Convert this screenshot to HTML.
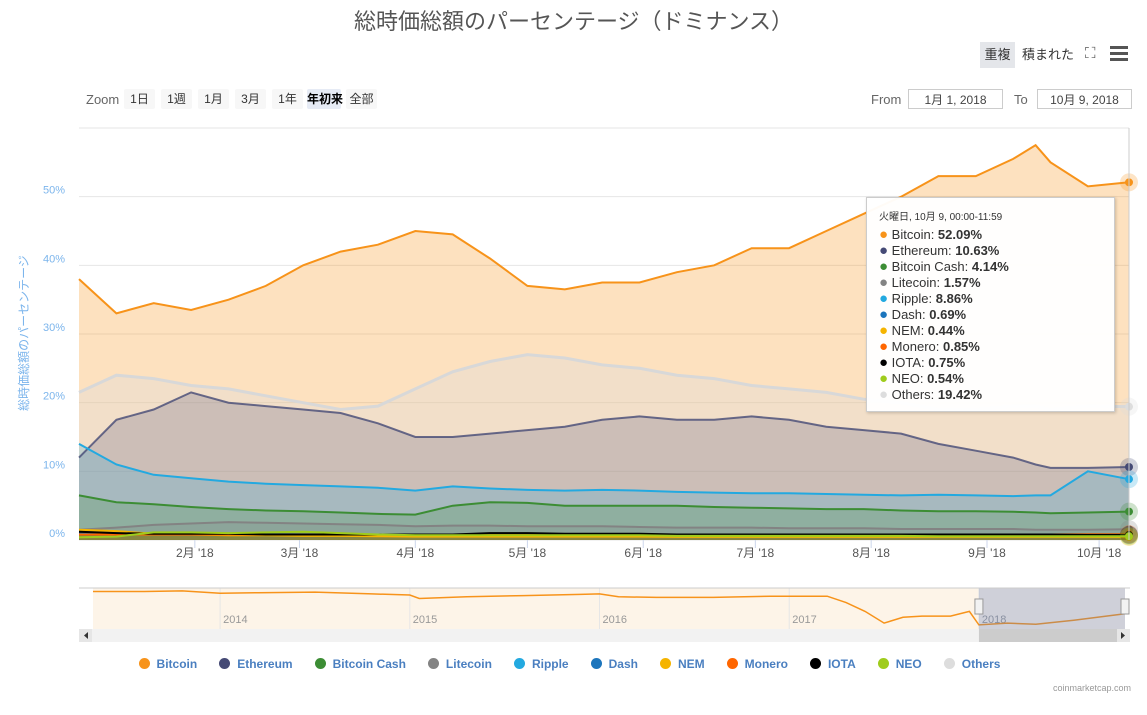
<!DOCTYPE html>
<html><head><meta charset="utf-8">
<style>
body{margin:0;background:#fff;font-family:"Liberation Sans","Noto Sans CJK JP",sans-serif;}
#wrap{position:relative;width:1147px;height:715px;overflow:hidden;}
.abs{position:absolute;}
.btn{position:absolute;top:89px;height:20px;line-height:20px;font-size:12px;color:#333;background:#f7f7f7;text-align:center;border-radius:2px;white-space:nowrap;}
.inp{position:absolute;top:89px;height:20px;line-height:20px;border:1px solid #ccc;font-size:12px;color:#444;text-align:center;box-sizing:border-box;}
</style></head><body>
<div id="wrap">
<div class="abs" style="left:0;width:1147px;top:4px;text-align:center;font-size:22px;color:#555;">総時価総額のパーセンテージ（ドミナンス）</div>
<div class="abs" style="left:980px;top:42px;width:35px;height:26px;line-height:26px;background:#e4e6ea;text-align:center;font-size:13px;color:#333;">重複</div>
<div class="abs" style="left:1022px;top:42px;height:26px;line-height:26px;font-size:13px;color:#333;">積まれた</div>
<div class="abs" style="left:1085px;top:45px;font-size:15px;color:#555;">⛶</div>
<div class="abs" style="left:1110px;top:46px;width:18px;">
<div style="height:3px;background:#555;margin-bottom:3px"></div><div style="height:3px;background:#555;margin-bottom:3px"></div><div style="height:3px;background:#555"></div></div>
<div class="abs" style="left:86px;top:92px;font-size:13px;color:#666;">Zoom</div>
<div class="btn" style="left:124px;width:31px;">1日</div>
<div class="btn" style="left:161px;width:31px;">1週</div>
<div class="btn" style="left:198px;width:31px;">1月</div>
<div class="btn" style="left:235px;width:31px;">3月</div>
<div class="btn" style="left:272px;width:31px;">1年</div>
<div class="btn" style="left:307px;width:34px;background:#e6ebf5;font-weight:bold;color:#000;text-align:left;">年初来</div>
<div class="btn" style="left:346px;width:31px;">全部</div>
<div class="abs" style="left:871px;top:92px;font-size:13px;color:#666;">From</div>
<div class="inp" style="left:908px;width:95px;">1月 1, 2018</div>
<div class="abs" style="left:1014px;top:92px;font-size:13px;color:#666;">To</div>
<div class="inp" style="left:1037px;width:95px;">10月 9, 2018</div>
<svg id="svg" class="abs" style="left:0;top:0" width="1147" height="715"></svg>
<div class="abs" style="left:866px;top:197px;width:249px;height:215px;background:rgba(255,255,255,0.96);border:1px solid #ccc;box-shadow:1px 1px 3px rgba(0,0,0,0.2);box-sizing:border-box;padding:12px 0 0 12px;font-size:13px;color:#333;line-height:16px;">
<div style="font-size:10px;margin-bottom:1px;">火曜日, 10月 9, 00:00-11:59</div>
<div id="ttrows"></div>
</div>
<div id="legend" class="abs" style="left:0;top:657px;width:1147px;"></div>
<div class="abs" style="right:16px;top:683px;font-size:9px;color:#999;">coinmarketcap.com</div>
</div>
<script>
const days=[0,10,20,30,40,50,60,70,80,90,100,110,120,130,140,150,160,170,180,190,200,210,220,230,240,250,256,260,270,281];
const seriesNames=["Bitcoin","Ethereum","Bitcoin Cash","Litecoin","Ripple","Dash","NEM","Monero","IOTA","NEO","Others"];
const seriesColors=["#f7931a","#454a75","#3c8d34","#838383","#23a9e0","#1c75bc","#f5b400","#ff6600","#000000","#9fcc1c","#dddddd"];
const bitcoin=[38,33,34.5,33.5,35,37,40,42,43,45,44.5,41,37,36.5,37.5,37.5,39,40,42.5,42.5,45,47.5,50,53,53,55.5,57.5,55,51.5,52.09];
const ethereum=[12,17.5,19,21.5,20,19.5,19,18.5,17,15,15,15.5,16,16.5,17.5,18,17.5,17.5,18,17.5,16.5,16,15.5,14,13,12,11,10.5,10.5,10.63];
const bitcoinCash=[6.5,5.5,5.2,4.8,4.5,4.3,4.2,4,3.8,3.7,5,5.5,5.4,5,5,5,5,4.8,4.7,4.6,4.5,4.5,4.3,4.2,4.2,4.1,4,3.9,4,4.14];
const litecoin=[1.5,1.8,2.2,2.4,2.6,2.5,2.4,2.3,2.2,2,2.1,2.1,2,2,2,1.9,1.8,1.8,1.8,1.7,1.7,1.7,1.6,1.6,1.6,1.6,1.5,1.5,1.5,1.57];
const ripple=[14,11,9.5,9,8.5,8.2,8,7.8,7.6,7.2,7.8,7.5,7.3,7.2,7.3,7.2,7,6.9,6.8,6.8,6.7,6.6,6.5,6.6,6.5,6.4,6.5,6.5,10,8.86];
const dash=[1.1,1,0.9,0.9,0.9,0.85,0.8,0.8,0.8,0.75,0.8,0.8,0.8,0.75,0.75,0.75,0.7,0.7,0.7,0.7,0.7,0.7,0.7,0.7,0.7,0.7,0.7,0.7,0.7,0.69];
const nem=[1.5,1.3,0.9,0.8,0.7,0.7,0.6,0.6,0.55,0.5,0.5,0.5,0.5,0.5,0.5,0.5,0.45,0.45,0.45,0.45,0.45,0.45,0.45,0.45,0.45,0.45,0.45,0.45,0.45,0.44];
const monero=[0.8,0.8,0.8,0.8,0.8,0.8,0.8,0.8,0.8,0.8,0.8,0.8,0.8,0.8,0.8,0.8,0.8,0.8,0.8,0.8,0.8,0.8,0.8,0.8,0.8,0.8,0.8,0.8,0.85,0.85];
const iota=[1.2,1,0.9,0.9,0.9,0.8,0.8,0.8,0.8,0.8,0.8,1,1,0.9,0.9,0.9,0.8,0.8,0.8,0.8,0.8,0.8,0.8,0.8,0.8,0.8,0.8,0.8,0.75,0.75];
const neo=[0.4,0.5,1.1,1.1,1,1.1,1.2,1,0.8,0.7,0.7,0.7,0.7,0.7,0.7,0.7,0.6,0.6,0.6,0.6,0.6,0.6,0.6,0.55,0.55,0.55,0.55,0.55,0.55,0.54];
const others=[21.5,24,23.5,22.5,22,21,20,19,19.5,22,24.5,26,27,26.5,25.5,25,24,23.5,22.5,22,21.5,20.5,20,19,19,19.5,19.5,19,19.5,19.42];
const yTicks=[0,10,20,30,40,50,60];
const monthTicks=[31,59,90,120,151,181,212,243,273];
const monthLabels=["2月 '18","3月 '18","4月 '18","5月 '18","6月 '18","7月 '18","8月 '18","9月 '18","10月 '18"];
const navYears=[2013.33,2013.6,2013.8,2014.0,2014.2,2014.5,2014.8,2015.0,2015.05,2015.3,2015.6,2015.9,2016.0,2016.1,2016.3,2016.6,2016.9,2017.0,2017.2,2017.3,2017.4,2017.5,2017.6,2017.7,2017.85,2017.95,2018.0,2018.15,2018.3,2018.5,2018.77];
const navValues=[94,94,95,91,92,93,90,88,82,85,87,89,90,85,84,84,86,86,86,75,60,40,50,52,52,60,37,40,38,45,56];
const navTickYears=[2014,2015,2016,2017,2018];

const S=document.getElementById('svg'),NS='http://www.w3.org/2000/svg';
function el(t,a,p){const e=document.createElementNS(NS,t);for(const k in a)e.setAttribute(k,a[k]);(p||S).appendChild(e);return e;}
const L=79,R=1129,T=128,B=540,DMAX=281,YMAX=60;
const xs=d=>L+(R-L)*d/DMAX, ys=v=>B-(B-T)*v/YMAX;
yTicks.forEach(v=>{
 const g=el('line',{x1:L,x2:R,y1:ys(v),y2:ys(v),stroke:'#e6e6e6'});
 
 
 if(v<60){const t=el('text',{x:65,y:ys(v)-3,'text-anchor':'end','font-size':11,fill:'#7cb5ec'});t.textContent=v+'%';
 
 }
});
const yt=el('text',{x:0,y:0,transform:'translate(28,333) rotate(-90)','text-anchor':'middle','font-size':12,fill:'#7cb5ec'});
yt.textContent='総時価総額のパーセンテージ';


monthTicks.forEach((d,i)=>{
 const l=el('line',{x1:xs(d),x2:xs(d),y1:B,y2:B+8,stroke:'#ccd6eb'});
 
 
 const t=el('text',{x:xs(d),y:B+17,'text-anchor':'middle','font-size':12,fill:'#555'});t.textContent=monthLabels[i];
 
 
});
const data=[bitcoin,ethereum,bitcoinCash,litecoin,ripple,dash,nem,monero,iota,neo,others];
const order=[0,10,1,4,2,3,5,6,7,8,9];
order.forEach(i=>{
 const pts=data[i].map((v,j)=>xs(days[j]).toFixed(1)+','+ys(v).toFixed(1));
 const a=el('path',{d:'M'+xs(0)+','+B+' L'+pts.join(' L')+' L'+xs(DMAX)+','+B+'Z',fill:seriesColors[i],'fill-opacity':i==0?0.28:(i==10?0.35:0.22)});
 
 
});
order.forEach(i=>{
 const pts=data[i].map((v,j)=>xs(days[j]).toFixed(1)+','+ys(v).toFixed(1));
 const p=el('path',{d:'M'+pts.join(' L'),fill:'none',stroke:i==10?'#d8d8d8':seriesColors[i],'stroke-width':i==10?3:2,opacity:i==1?0.8:1});
 
 
 const last=data[i][data[i].length-1];
 el('circle',{cx:xs(DMAX),cy:ys(last),r:9,fill:seriesColors[i],'fill-opacity':0.25});
 const m=el('circle',{cx:xs(DMAX),cy:ys(last),r:4,fill:seriesColors[i]});
 
 
});
el('line',{x1:R,x2:R,y1:T,y2:B,stroke:'#ccc'});
const NL=93,NR=1125,NT=588,NB=629;
const nx=y=>NL+(y-2013.33)*(NR-NL)/(2018.77-2013.33), ny=v=>NB-(v-30)*(NB-NT)/70;
el('rect',{x:NL,y:NT,width:NR-NL,height:NB-NT,fill:'#fdf4e8'});
navTickYears.forEach(y=>{
 el('line',{x1:nx(y),x2:nx(y),y1:NT,y2:NB,stroke:'#e6e6e6'});
 const t=el('text',{x:nx(y)+3,y:NB-6,'font-size':11,fill:'#999'});t.textContent=y;
 
 
});
const npts=navValues.map((v,j)=>nx(navYears[j]).toFixed(1)+','+ny(v).toFixed(1));
const nl=el('path',{d:'M'+npts.join(' L'),fill:'none',stroke:'#f7931a','stroke-width':1.5});


const sel=el('rect',{x:nx(2018),y:NT,width:NR-nx(2018),height:NB-NT,fill:'#667fb5','fill-opacity':0.3});


el('line',{x1:79,x2:1130,y1:NT,y2:NT,stroke:'#ccc'});
[nx(2018),NR].forEach(x=>{const h=el('rect',{x:x-4,y:599,width:8,height:15,fill:'#f2f2f2',stroke:'#999'});
 
 });
const sb=el('rect',{x:79,y:629,width:1051,height:13,fill:'#f2f2f2'});


const th=el('rect',{x:nx(2018),y:629,width:NR-nx(2018),height:13,fill:'#ccc'});


el('rect',{x:79,y:629,width:13,height:13,fill:'#e6e6e6'});el('rect',{x:1117,y:629,width:13,height:13,fill:'#e6e6e6'});
el('path',{d:'M88,632 L84,635.5 L88,639Z',fill:'#333'});el('path',{d:'M1121,632 L1125,635.5 L1121,639Z',fill:'#333'});
const vals=["52.09%","10.63%","4.14%","1.57%","8.86%","0.69%","0.44%","0.85%","0.75%","0.54%","19.42%"];
const tt=document.getElementById('ttrows'),lg=document.getElementById('legend');
let lh='<div style="display:flex;justify-content:center;gap:0;font-size:12px;font-weight:bold;color:#4a7fc0;margin-left:-8px">';
seriesNames.forEach((n,i)=>{
 tt.innerHTML+='<div><span style="color:'+seriesColors[i]+';font-size:15px">●</span> '+n+': <b>'+vals[i]+'</b></div>';
 lh+='<div style="margin:0 11px;white-space:nowrap"><span style="display:inline-block;width:11px;height:11px;border-radius:50%;background:'+seriesColors[i]+';vertical-align:-1px;margin-right:7px"></span>'+n+'</div>';
});
lg.innerHTML=lh+'</div>';
</script>
</body></html>
